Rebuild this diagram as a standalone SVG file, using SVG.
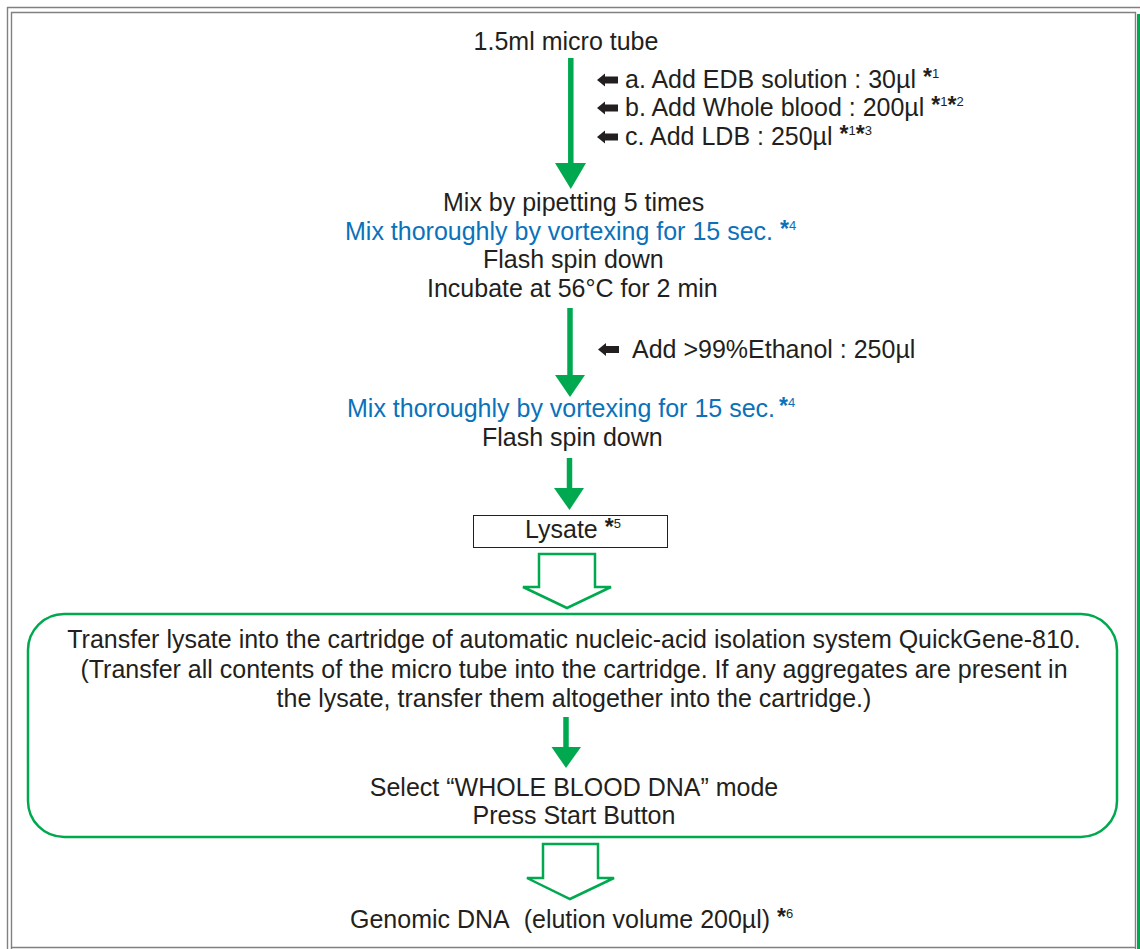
<svg xmlns="http://www.w3.org/2000/svg" width="1140" height="949" viewBox="0 0 1140 949">
<style>
.t{font-family:"Liberation Sans",Arial,Helvetica,sans-serif;font-size:25px;fill:#231f20}
.b{fill:#0a72ba}
.m{text-anchor:middle}
.ast{font-size:23px;font-weight:bold}
.num{font-size:13px}
.frame{stroke:#808080;stroke-width:1.4;fill:none}
.gl{stroke:#00a94f;stroke-width:5.5;fill:none}
.gh{fill:#00a94f;stroke:none}
.hollow{fill:#fff;stroke:#00a94f;stroke-width:2.5;stroke-linejoin:miter}
.ba{fill:#231f20}
</style>
<rect x="0" y="0" width="1140" height="949" fill="#fff"/>
<g id="frame">
<line class="frame" x1="7" y1="7.5" x2="1140" y2="7.5"/>
<line class="frame" x1="7.5" y1="7" x2="7.5" y2="949"/>
<line class="frame" x1="11" y1="12.5" x2="1136" y2="12.5"/>
<line class="frame" x1="11.5" y1="12" x2="11.5" y2="949"/>
<line class="frame" x1="1135.5" y1="12" x2="1135.5" y2="949"/>
<line class="frame" x1="11" y1="947.5" x2="1136" y2="947.5"/>
<rect x="1137" y="14" width="3" height="935" fill="#00a94f"/>
</g>
<g id="connectors">
<line class="gl" x1="570.8" y1="58" x2="570.8" y2="165"/>
<polygon class="gh" points="555,163 586,163 570.8,189"/>
<line class="gl" x1="570" y1="308" x2="570" y2="377"/>
<polygon class="gh" points="555,375 585,375 570,397"/>
<line class="gl" x1="569.5" y1="458" x2="569.5" y2="490"/>
<polygon class="gh" points="554,488 584,488 569.5,510"/>
<polygon id="hollow1" class="hollow" points="539,554 595,554 595,587 611,587 567,608 523,587 539,587"/>
<line class="gl" x1="566" y1="717" x2="566" y2="749"/>
<polygon class="gh" points="551.5,747 581,747 566,768"/>
<polygon id="hollow2" class="hollow" points="543,844 598,844 598,878 614,878 570,899 527,878 543,878"/>
</g>
<g id="start">
<text class="t m" x="566" y="50">1.5ml micro tube</text>
</g>
<g id="additions1">
<path class="ba" d="M597,80 l8,-6.5 v3 h13 v7 h-13 v3 z"/>
<text class="t" x="625" y="88">a. Add EDB solution : 30µl <tspan class="ast" dy="-3">*</tspan><tspan class="num" dy="-7">1</tspan></text>
<path class="ba" d="M597,108 l8,-6.5 v3 h13 v7 h-13 v3 z"/>
<text class="t" x="625" y="116">b. Add Whole blood : 200µl <tspan class="ast" dy="-3">*</tspan><tspan class="num" dy="-7">1</tspan><tspan class="ast" dy="7">*</tspan><tspan class="num" dy="-7">2</tspan></text>
<path class="ba" d="M597,137 l8,-6.5 v3 h13 v7 h-13 v3 z"/>
<text class="t" x="625" y="145">c. Add LDB : 250µl <tspan class="ast" dy="-3">*</tspan><tspan class="num" dy="-7">1</tspan><tspan class="ast" dy="7">*</tspan><tspan class="num" dy="-7">3</tspan></text>
</g>
<g id="mix1">
<text class="t" x="443" y="211">Mix by pipetting 5 times</text>
<text class="t b" x="345" y="240">Mix thoroughly by vortexing for 15 sec. <tspan class="ast" dy="-3">*</tspan><tspan class="num" dy="-7">4</tspan></text>
<text class="t" x="483" y="268">Flash spin down</text>
<text class="t" x="427" y="297">Incubate at 56°C for 2 min</text>
</g>
<g id="additions2">
<path class="ba" d="M598,349.5 l8,-6.5 v3 h13 v7 h-13 v3 z"/>
<text class="t" x="632" y="358">Add &gt;99%Ethanol : 250µl</text>
</g>
<g id="mix2">
<text class="t b" x="347" y="417">Mix thoroughly by vortexing for 15 sec.<tspan class="ast" dx="4" dy="-3">*</tspan><tspan class="num" dy="-7">4</tspan></text>
<text class="t" x="482" y="446">Flash spin down</text>
</g>
<g id="lysate">
<rect x="473.5" y="515.5" width="194" height="32" fill="#fff" stroke="#231f20" stroke-width="1"/>
<text class="t" x="525" y="538">Lysate <tspan class="ast" dy="-3">*</tspan><tspan class="num" dy="-7">5</tspan></text>
</g>
<g id="quickgene">
<rect x="28" y="614" width="1089" height="223" rx="36" ry="36" fill="none" stroke="#00a94f" stroke-width="2.5"/>
<text class="t m" x="574" y="648">Transfer lysate into the cartridge of automatic nucleic-acid isolation system QuickGene-810.</text>
<text class="t m" x="574" y="678">(Transfer all contents of the micro tube into the cartridge. If any aggregates are present in</text>
<text class="t m" x="574" y="707">the lysate, transfer them altogether into the cartridge.)</text>
<text class="t m" x="574" y="796">Select “WHOLE BLOOD DNA” mode</text>
<text class="t m" x="574" y="824">Press Start Button</text>
</g>
<g id="result">
<text class="t" x="350" y="928">Genomic DNA&#160; (elution volume 200µl) <tspan class="ast" dy="-3">*</tspan><tspan class="num" dy="-7">6</tspan></text>
</g>
</svg>
